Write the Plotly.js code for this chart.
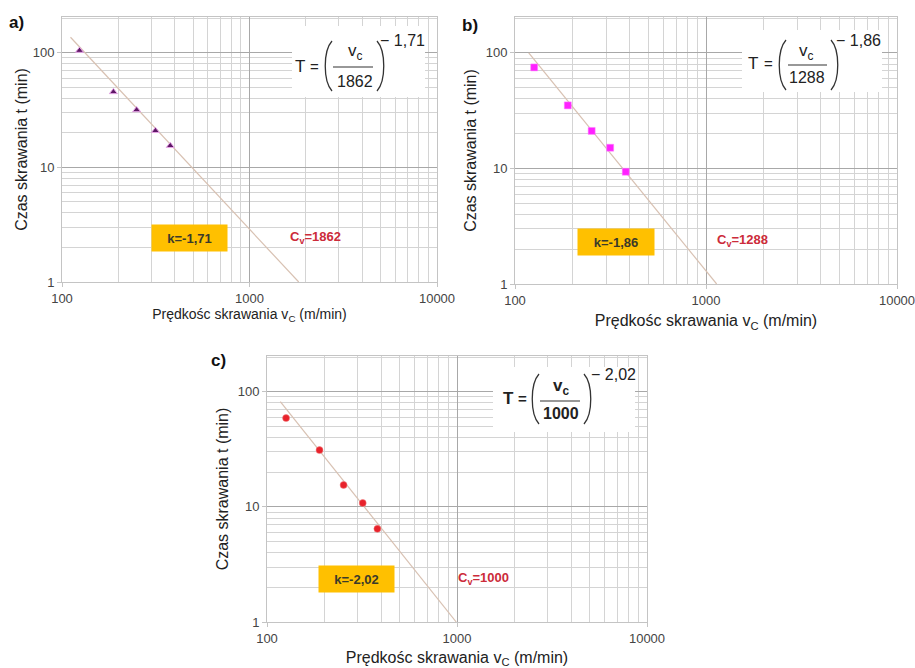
<!DOCTYPE html>
<html>
<head>
<meta charset="utf-8">
<script src="https://cdn.plot.ly/plotly-3.0.1.min.js"></script>
<style>html,body{margin:0;padding:0;background:#fff;}#chart{width:915px;height:668px;}</style>
</head>
<body>
<div id="chart"></div>
<script>
// ---- data ----
const xTickVals = [100, 1000, 10000];
const xTickText = ["100", "1000", "10000"];
const yTickVals = [1, 10, 100];
const yTickText = ["1", "10", "100"];

const vA = [124, 188, 250, 315, 378];
const tA = [104, 45.4, 31.6, 20.8, 15.4];
const lineAv = [111, 1830];
const lineAt = [136, 1];

const vB = [126, 189, 252, 315, 380];
const tB = [74.8, 35.1, 21.1, 15.1, 9.36];
const lineBv = [118, 1137];
const lineBt = [100, 1];

const vC = [126, 189, 253, 319, 381];
const tC = [59, 31.1, 15.5, 10.8, 6.44];
const lineCv = [117.5, 991];
const lineCt = [81.8, 1];

const panelLabels = ["a)", "b)", "c)"];
const kTexts = ["k=-1,71", "k=-1,86", "k=-2,02"];
const cvValues = ["1862", "1288", "1000"];
const exponents = ["\u2212 1,71", "\u2212 1,86", "\u2212 2,02"];

const xTitle = "Prędkośc skrawania v<sub>C</sub> (m/min)";
const yTitle = "Czas skrawania t (min)";

// ---- layout helpers ----
const W = 915, H = 668;
const px = x => x / W;
const py = y => 1 - y / H;
const FONT = "Liberation Sans, Arial, sans-serif";

function xAxis(domain, anchor, tsize, stand) {
  return {
    type: "log", range: [2, 4], domain: domain, anchor: anchor,
    tickmode: "array", tickvals: xTickVals, ticktext: xTickText,
    ticklabeloverflow: "allow",
    showgrid: true, gridcolor: "#a8a8a8", gridwidth: 1,
    minor: {dtick: "D1", showgrid: true, gridcolor: "#d4d4d4", gridwidth: 1},
    showline: true, mirror: true, linecolor: "#c4c4c4", linewidth: 1,
    ticks: "outside", ticklen: 4, tickcolor: "#c4c4c4",
    tickfont: {family: FONT, size: 13, color: "#444"},
    zeroline: false,
    title: {text: xTitle, font: {family: FONT, size: tsize, color: "#222"}, standoff: stand}
  };
}
function yAxis(domain, anchor, stand) {
  return {
    type: "log", range: [0, 2.31], domain: domain, anchor: anchor,
    tickmode: "array", tickvals: yTickVals, ticktext: yTickText,
    ticklabeloverflow: "allow",
    showgrid: true, gridcolor: "#a8a8a8", gridwidth: 1.2,
    minor: {dtick: "D1", showgrid: true, gridcolor: "#d4d4d4", gridwidth: 1},
    showline: true, mirror: true, linecolor: "#c4c4c4", linewidth: 1,
    ticks: "outside", ticklen: 4, tickcolor: "#c4c4c4",
    tickfont: {family: FONT, size: 13, color: "#444"},
    zeroline: false,
    title: {text: yTitle, font: {family: FONT, size: 16, color: "#222"}, standoff: stand}
  };
}

const lineStyle = {color: "#d8c1b2", width: 1.2};

const traces = [
  {x: lineAv, y: lineAt, mode: "lines", line: lineStyle, xaxis: "x", yaxis: "y", hoverinfo: "skip"},
  {x: vA, y: tA, mode: "markers", xaxis: "x", yaxis: "y",
   marker: {symbol: "triangle-up", size: 7, color: "#5e1766", line: {color: "#e6a6e6", width: 1}}},
  {x: lineBv, y: lineBt, mode: "lines", line: lineStyle, xaxis: "x2", yaxis: "y2", hoverinfo: "skip"},
  {x: vB, y: tB, mode: "markers", xaxis: "x2", yaxis: "y2",
   marker: {symbol: "square", size: 7, color: "#ff22ff", line: {color: "#ff88ff", width: 0.5}}},
  {x: lineCv, y: lineCt, mode: "lines", line: lineStyle, xaxis: "x3", yaxis: "y3", hoverinfo: "skip"},
  {x: vC, y: tC, mode: "markers", xaxis: "x3", yaxis: "y3",
   marker: {symbol: "circle", size: 7, color: "#e8222b", line: {color: "#f08080", width: 0.5}}}
];

// panel geometry (pixels): plot areas, formula boxes, k boxes, Cv text, label
const panels = [
  {plot: [62, 437, 17, 282], box: [292, 425, 26, 97],
   T: [300, 66], eq: [314, 66], pl: [332, 41, 91], pr: [377, 41, 91],
   frac: [333, 373, 67], num: [355, 52], den: [355, 81], exp: [402, 40], bold: false,
   k: [189.5, 238, 75, 26], cv: [315, 237], lab: [16, 23]},
  {plot: [515, 897, 17, 284], box: [742, 882, 30, 92],
   T: [753, 64], eq: [768, 64], pl: [786, 40, 90], pr: [831, 40, 90],
   frac: [788, 827, 65], num: [806, 52], den: [807, 78], exp: [858, 40], bold: false,
   k: [616, 242, 76, 26], cv: [742, 241], lab: [470, 25]},
  {plot: [267, 647, 356, 622], box: [493, 635, 367, 432],
   T: [508, 398], eq: [522, 398], pl: [539, 374, 424], pr: [584, 374, 424],
   frac: [540, 580, 401], num: [561, 387], den: [561, 413], exp: [613, 374], bold: true,
   k: [356.5, 579, 75, 26], cv: [483, 578], lab: [218, 360]}
];

const shapes = [];
const annotations = [];
panels.forEach((p, i) => {
  // white formula box
  shapes.push({type: "rect", xref: "paper", yref: "paper", layer: "above",
    x0: px(p.box[0]), x1: px(p.box[1]), y0: py(p.box[3]), y1: py(p.box[2]),
    fillcolor: "#ffffff", line: {width: 0}});
  // parentheses
  const [lx, lt, lb] = p.pl, [rx, rt, rb] = p.pr;
  const lm1 = lt + (lb - lt) * 0.2, lm2 = lt + (lb - lt) * 0.8;
  shapes.push({type: "path", xref: "paper", yref: "paper", layer: "above",
    path: `M ${px(lx)},${py(lt)} C ${px(lx - 9)},${py(lm1)} ${px(lx - 9)},${py(lm2)} ${px(lx)},${py(lb)}`,
    line: {color: "#333", width: 1.3}});
  shapes.push({type: "path", xref: "paper", yref: "paper", layer: "above",
    path: `M ${px(rx)},${py(rt)} C ${px(rx + 9)},${py(lm1)} ${px(rx + 9)},${py(lm2)} ${px(rx)},${py(rb)}`,
    line: {color: "#333", width: 1.3}});
  // fraction bar
  shapes.push({type: "line", xref: "paper", yref: "paper", layer: "above",
    x0: px(p.frac[0]), x1: px(p.frac[1]), y0: py(p.frac[2]), y1: py(p.frac[2]),
    line: {color: "#333", width: 1.2}});

  const fcol = "#222";
  const b = s => p.bold ? "<b>" + s + "</b>" : s;
  annotations.push({xref: "paper", yref: "paper", x: px(p.T[0]), y: py(p.T[1]), text: b("T"),
    showarrow: false, xanchor: "center", yanchor: "middle", font: {family: FONT, size: 17, color: fcol}});
  annotations.push({xref: "paper", yref: "paper", x: px(p.eq[0]), y: py(p.eq[1]), text: b("="),
    showarrow: false, xanchor: "center", yanchor: "middle", font: {family: FONT, size: 15, color: fcol}});
  annotations.push({xref: "paper", yref: "paper", x: px(p.num[0]), y: py(p.num[1]), text: b("v<sub>c</sub>"),
    showarrow: false, xanchor: "center", yanchor: "middle", font: {family: FONT, size: 17, color: fcol}});
  annotations.push({xref: "paper", yref: "paper", x: px(p.den[0]), y: py(p.den[1]), text: b(cvValues[i]),
    showarrow: false, xanchor: "center", yanchor: "middle", font: {family: FONT, size: 16, color: fcol}});
  annotations.push({xref: "paper", yref: "paper", x: px(p.exp[0]), y: py(p.exp[1]), text: exponents[i],
    showarrow: false, xanchor: "center", yanchor: "middle", font: {family: FONT, size: 16, color: fcol}});

  // k box
  annotations.push({xref: "paper", yref: "paper", x: px(p.k[0]), y: py(p.k[1]),
    text: "<b>" + kTexts[i] + "</b>", showarrow: false, xanchor: "center", yanchor: "middle",
    width: p.k[2], height: p.k[3], bgcolor: "#ffc000", borderpad: 0,
    font: {family: FONT, size: 13, color: "#3a3a2a"}});
  // Cv text
  annotations.push({xref: "paper", yref: "paper", x: px(p.cv[0]), y: py(p.cv[1]),
    text: "<b>C<sub>v</sub>=" + cvValues[i] + "</b>", showarrow: false, xanchor: "center", yanchor: "middle",
    font: {family: FONT, size: 13, color: "#cc2b3a"}});
  // panel label
  annotations.push({xref: "paper", yref: "paper", x: px(p.lab[0]), y: py(p.lab[1]),
    text: "<b>" + panelLabels[i] + "</b>", showarrow: false, xanchor: "center", yanchor: "middle",
    font: {family: FONT, size: 17, color: "#111"}});
});

const dom = p => ({x: [px(p.plot[0]), px(p.plot[1])], y: [py(p.plot[3]), py(p.plot[2])]});
const dA = dom(panels[0]), dB = dom(panels[1]), dC = dom(panels[2]);

const layout = {
  width: W, height: H,
  margin: {l: 0, r: 0, t: 0, b: 0},
  paper_bgcolor: "#ffffff", plot_bgcolor: "#ffffff",
  showlegend: false,
  xaxis: xAxis(dA.x, "y", 14, 3), yaxis: yAxis(dA.y, "x", 1),
  xaxis2: xAxis(dB.x, "y2", 16, 8), yaxis2: yAxis(dB.y, "x2", 5),
  xaxis3: xAxis(dC.x, "y3", 16, 8), yaxis3: yAxis(dC.y, "x3", 5),
  shapes: shapes,
  annotations: annotations,
  font: {family: FONT}
};

Plotly.newPlot("chart", traces, layout, {staticPlot: true, displayModeBar: false});
</script>
</body>
</html>
